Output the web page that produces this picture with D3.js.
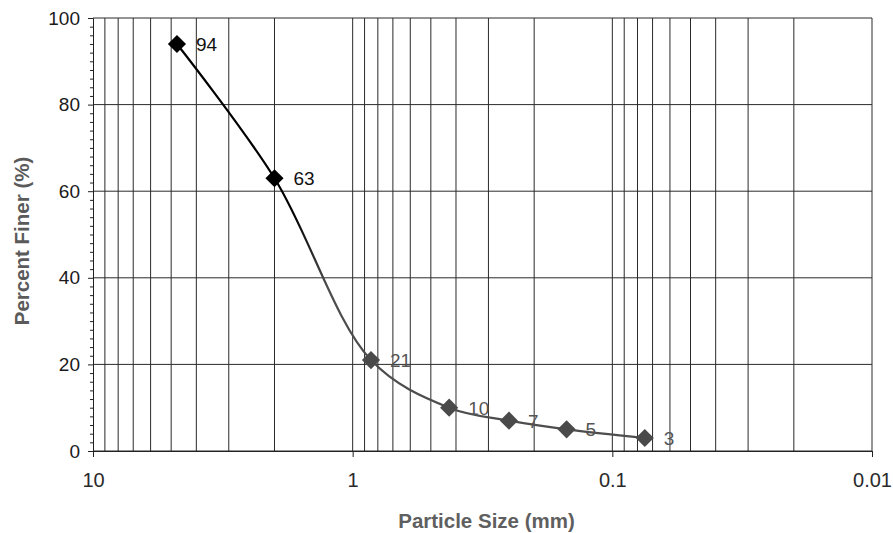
<!DOCTYPE html>
<html>
<head>
<meta charset="utf-8">
<script src="https://cdn.jsdelivr.net/npm/d3@7"></script>
<style>
  body { margin: 0; background: #fff; }
  svg { display: block; font-family: Arial, "Liberation Sans", sans-serif; }
</style>
</head>
<body>
<svg id="root"></svg>
<script>
// Grain size distribution curve

// Sieve opening (mm) and percent passing
const sizes = [4.75, 2.0, 0.85, 0.425, 0.25, 0.15, 0.075];
const finer = [94, 63, 21, 10, 7, 5, 3];
const xTicks = [10, 1, 0.1, 0.01];
const yTicks = [0, 20, 40, 60, 80, 100];

const W = 893, H = 533;
const margin = { top: 18, right: 21, bottom: 82, left: 93 },
  width = W - margin.left - margin.right,
  height = H - margin.top - margin.bottom;

const svg = d3.select("#root").attr("width", W).attr("height", H);
const g = svg.append("g").attr("transform", `translate(${margin.left},${margin.top})`);

// reversed log axis, big to small
let xScale = d3.scaleLog().domain([10, 0.01]).range([0, width]);
let yScale = d3.scaleLinear().domain([0, 100]).range([height, 0]);

// minor log gridlines (9..2 in each decade) + majors
let vLines = [];
for (let dec = 1; dec >= -2; dec--) {
  for (let k = 1; k <= 9; k++) {
    let v = k * Math.pow(10, dec - 1);
    if (v <= 10 && v >= 0.01) vLines.push(v);
  }
}
g.append("g")
  .selectAll("line")
  .data(vLines)
  .join("line")
  .attr("x1", (d) => xScale(d))
  .attr("x2", (d) => xScale(d))
  .attr("y1", 0)
  .attr("y2", height)
  .attr("stroke", "#2a2a2a")
  .attr("stroke-width", 1);

g.append("g")
  .selectAll("line")
  .data(yTicks)
  .join("line")
  .attr("x1", 0)
  .attr("x2", width)
  .attr("y1", (d) => yScale(d))
  .attr("y2", (d) => yScale(d))
  .attr("stroke", "#2a2a2a")
  .attr("stroke-width", 1);

// Axes
let yAxis = d3.axisLeft(yScale).tickValues(yTicks).tickSize(5).tickPadding(8);
let yg = g.append("g").call(yAxis);
yg.select(".domain").attr("stroke", "#222");
yg.selectAll(".tick line").attr("stroke", "#222");
yg.selectAll("text").attr("font-size", 19).attr("fill", "#1a1a1a");

// small ticks every 2 %
let yMinor = d3.range(0, 101, 2).filter((d) => d % 20 !== 0);
g.append("g")
  .call(d3.axisLeft(yScale).tickValues(yMinor).tickSize(3).tickFormat(""))
  .call((s) => s.select(".domain").remove())
  .selectAll("line")
  .attr("stroke", "#222");

let xAxis = d3
  .axisBottom(xScale)
  .tickValues(xTicks)
  .tickSize(6)
  .tickPadding(16)
  .tickFormat((d) => String(d));
let xg = g.append("g").attr("transform", `translate(0,${height})`).call(xAxis);
xg.select(".domain").attr("stroke", "#222");
xg.selectAll(".tick line").attr("stroke", "#222");
xg.selectAll("text").attr("font-size", 20).attr("fill", "#2a2a2a");

// Axis titles
svg
  .append("text")
  .attr("x", margin.left + width / 2 + 4)
  .attr("y", 528)
  .attr("text-anchor", "middle")
  .attr("font-size", 20.5)
  .attr("font-weight", "bold")
  .attr("fill", "#5f5f5f")
  .text("Particle Size (mm)");

svg
  .append("text")
  .attr("transform", `translate(29,241) rotate(-90)`)
  .attr("text-anchor", "middle")
  .attr("font-size", 20.5)
  .attr("font-weight", "bold")
  .attr("fill", "#5a5a5a")
  .text("Percent Finer (%)");

// line fades from black to grey like the scan
let grad = svg
  .append("defs")
  .append("linearGradient")
  .attr("id", "fade")
  .attr("gradientUnits", "userSpaceOnUse")
  .attr("x1", 0)
  .attr("x2", 0)
  .attr("y1", 0)
  .attr("y2", height);
grad.append("stop").attr("offset", 0.45).attr("stop-color", "#000");
grad.append("stop").attr("offset", 0.62).attr("stop-color", "#4d4d4d");

const points = sizes.map((s, i) => [s, finer[i]]);

let line = d3
  .line()
  .curve(d3.curveCatmullRom.alpha(0.5))
  .x((d) => xScale(d[0]))
  .y((d) => yScale(d[1]));

g.append("path")
  .datum(points)
  .attr("fill", "none")
  .attr("stroke", "url(#fade)")
  .attr("stroke-width", 2.2)
  .attr("d", line);

const shade = (d) => (d[1] > 50 ? "#000" : "#4a4a4a");

g.append("g")
  .selectAll("path")
  .data(points)
  .join("path")
  .attr("d", d3.symbol(d3.symbolSquare, 165))
  .attr("transform", (d) => `translate(${xScale(d[0])},${yScale(d[1])}) rotate(45)`)
  .attr("fill", shade);

// Data labels
g.append("g")
  .selectAll("text")
  .data(points)
  .join("text")
  .attr("x", (d) => xScale(d[0]) + 19)
  .attr("y", (d) => yScale(d[1]))
  .attr("dy", "0.36em")
  .attr("font-size", 19)
  .attr("fill", (d) => (d[1] > 50 ? "#111" : "#555"))
  .text((d) => d[1]);
</script>
</body>
</html>
